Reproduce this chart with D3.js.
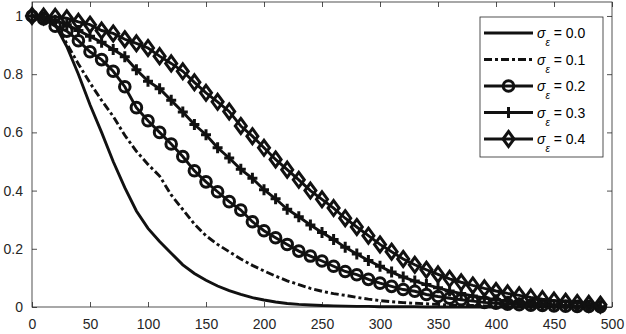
<!DOCTYPE html>
<html>
<head>
<meta charset="utf-8">
<script src="https://cdn.jsdelivr.net/npm/d3@7"></script>
<style>
  body { margin: 0; background: #fff; }
  svg { display: block; font-family: "Liberation Sans", Arial, sans-serif; }
</style>
</head>
<body>
<svg id="chart" width="626" height="334"></svg>
<script>
// x positions of the samples (every 10 steps)
var xs = d3.range(0, 500, 10);

var s00 = [1.0, 0.995, 0.97, 0.895, 0.80, 0.695, 0.60, 0.50, 0.41, 0.33,
           0.27, 0.225, 0.185, 0.145, 0.115, 0.092, 0.072, 0.056, 0.043, 0.032,
           0.024, 0.017, 0.012, 0.009, 0.007, 0.005, 0.004, 0.003, 0.002, 0.002,
           0.001, 0.001, 0.001, 0.001, 0.0, 0.0, 0.0, 0.0, 0.0, 0.0,
           0.0, 0.0, 0.0, 0.0, 0.0, 0.0, 0.0, 0.0, 0.0, 0.0];
var s01 = [1.0, 0.997, 0.975, 0.905, 0.835, 0.77, 0.71, 0.655, 0.59, 0.535,
           0.49, 0.45, 0.385, 0.335, 0.285, 0.245, 0.215, 0.19, 0.165, 0.143,
           0.124, 0.106, 0.09, 0.077, 0.064, 0.054, 0.046, 0.04, 0.033, 0.027,
           0.022, 0.018, 0.015, 0.013, 0.011, 0.009, 0.007, 0.006, 0.005, 0.004,
           0.003, 0.003, 0.002, 0.002, 0.002, 0.001, 0.001, 0.001, 0.001, 0.001];
var s02 = [1.0, 0.99, 0.965, 0.948, 0.915, 0.877, 0.85, 0.81, 0.757, 0.685,
           0.64, 0.60, 0.56, 0.517, 0.468, 0.43, 0.396, 0.362, 0.333, 0.293,
           0.262, 0.238, 0.215, 0.192, 0.175, 0.158, 0.14, 0.122, 0.111, 0.095,
           0.082, 0.071, 0.06, 0.054, 0.043, 0.036, 0.03, 0.025, 0.02, 0.016,
           0.013, 0.01, 0.008, 0.006, 0.005, 0.004, 0.003, 0.002, 0.002, 0.001];
var s03 = [1.0, 0.995, 0.985, 0.97, 0.95, 0.93, 0.91, 0.885, 0.86, 0.815,
           0.776, 0.75, 0.71, 0.67, 0.627, 0.592, 0.547, 0.512, 0.473, 0.442,
           0.403, 0.372, 0.336, 0.31, 0.282, 0.256, 0.232, 0.205, 0.182, 0.16,
           0.14, 0.12, 0.103, 0.089, 0.077, 0.066, 0.055, 0.046, 0.038, 0.031,
           0.025, 0.02, 0.015, 0.011, 0.008, 0.006, 0.004, 0.003, 0.002, 0.001];
var s04 = [1.0, 0.998, 0.997, 0.992, 0.98, 0.97, 0.95, 0.94, 0.92, 0.906,
           0.89, 0.862, 0.837, 0.81, 0.772, 0.736, 0.705, 0.672, 0.622, 0.587,
           0.547, 0.507, 0.472, 0.437, 0.40, 0.37, 0.34, 0.305, 0.275, 0.245,
           0.215, 0.19, 0.165, 0.145, 0.128, 0.112, 0.097, 0.085, 0.074, 0.064,
           0.055, 0.047, 0.04, 0.033, 0.027, 0.022, 0.018, 0.014, 0.011, 0.008];

var seriesNames = ["0.0", "0.1", "0.2", "0.3", "0.4"];
var xTicks = [0, 50, 100, 150, 200, 250, 300, 350, 400, 450, 500];
var yTicks = [0, 0.2, 0.4, 0.6, 0.8, 1];

var svg = d3.select("#chart");

var margin = {top: 2, right: 14, bottom: 27, left: 32};
var width = +svg.attr("width") - margin.left - margin.right;
var height = +svg.attr("height") - margin.top - margin.bottom;

var x = d3.scaleLinear().domain([0, 500]).range([0, width]);
var y = d3.scaleLinear().domain([0, 1.048]).range([height, 0]);

var axisColor = "#262626";
var lineColor = "#111";

var g = svg.append("g")
    .attr("transform", "translate(" + margin.left + "," + margin.top + ")");

// box + inward ticks
g.append("rect")
    .attr("width", width).attr("height", height)
    .attr("fill", "none").attr("stroke", axisColor).attr("stroke-width", 0.8);

var xAxis = g.append("g")
    .attr("transform", "translate(0," + height + ")")
    .call(d3.axisBottom(x).tickValues(xTicks).tickSizeInner(-5).tickSizeOuter(0).tickPadding(12).tickFormat(d3.format("d")));
var xTop = g.append("g")
    .call(d3.axisTop(x).tickValues(xTicks).tickSizeInner(-5).tickSizeOuter(0).tickFormat(""));
var yAxis = g.append("g")
    .call(d3.axisLeft(y).tickValues(yTicks).tickSizeInner(-5).tickSizeOuter(0).tickPadding(9).tickFormat(function(d) { return d3.format("~g")(d); }));
var yRight = g.append("g")
    .attr("transform", "translate(" + width + ",0)")
    .call(d3.axisRight(y).tickValues(yTicks).tickSizeInner(-5).tickSizeOuter(0).tickFormat(""));

[xAxis, xTop, yAxis, yRight].forEach(function(a) {
    a.select(".domain").remove();
    a.selectAll("line").attr("stroke", axisColor).attr("stroke-width", 0.8);
    a.selectAll("text").attr("fill", axisColor).style("font-size", "14px")
        .style("font-family", "'Liberation Sans', Arial, sans-serif");
});

var plot = g.append("g");

var all = [s00, s01, s02, s03, s04];
var dashes = [null, "8,3,3,3", null, null, null];
var markers = [null, null, "circle", "plus", "diamond"];

function markerPath(type) {
    if (type === "circle") return "M5.3,0A5.3,5.3 0 1,1 -5.3,0A5.3,5.3 0 1,1 5.3,0Z";
    if (type === "plus") return "M-5,0L5,0M0,-5.5L0,5.5";
    if (type === "diamond") return "M0,-7.5L5.5,0L0,7.5L-5.5,0Z";
    return "";
}

var line = d3.line()
    .x(function(d) { return x(d[0]); })
    .y(function(d) { return y(d[1]); });

all.forEach(function(vals, i) {
    var pts = xs.map(function(v, k) { return [v, vals[k]]; });
    plot.append("path")
        .datum(pts)
        .attr("d", line)
        .attr("fill", "none")
        .attr("stroke", lineColor)
        .attr("stroke-width", 2.9)
        .attr("stroke-dasharray", dashes[i]);
    if (markers[i]) {
        plot.append("g").selectAll("path")
            .data(pts)
            .enter().append("path")
            .attr("transform", function(d) { return "translate(" + x(d[0]) + "," + y(d[1]) + ")"; })
            .attr("d", markerPath(markers[i]))
            .attr("fill", "none")
            .attr("stroke", lineColor)
            .attr("stroke-width", 3);
    }
});

// legend
var lg = svg.append("g").attr("transform", "translate(480,17)");
lg.append("rect")
    .attr("width", 123).attr("height", 140)
    .attr("fill", "#fff").attr("stroke", axisColor).attr("stroke-width", 0.8);

seriesNames.forEach(function(name, i) {
    var ly = 16 + i * 26.5;
    lg.append("line")
        .attr("x1", 4).attr("x2", 53).attr("y1", ly).attr("y2", ly)
        .attr("stroke", lineColor).attr("stroke-width", 2.9)
        .attr("stroke-dasharray", dashes[i]);
    if (markers[i]) {
        lg.append("path")
            .attr("transform", "translate(28.5," + ly + ")")
            .attr("d", markerPath(markers[i]))
            .attr("fill", "none").attr("stroke", lineColor).attr("stroke-width", 3);
    }
    var t = lg.append("text")
        .attr("x", 57).attr("y", ly + 5)
        .attr("fill", "#000")
        .style("font-size", "14px");
    t.append("tspan").style("font-style", "italic").text("σ");
    t.append("tspan").attr("dy", 8).style("font-size", "10px").style("font-style", "italic").text("ε");
    t.append("tspan").attr("dy", -8).text(" = " + name);
});
</script>
</body>
</html>
